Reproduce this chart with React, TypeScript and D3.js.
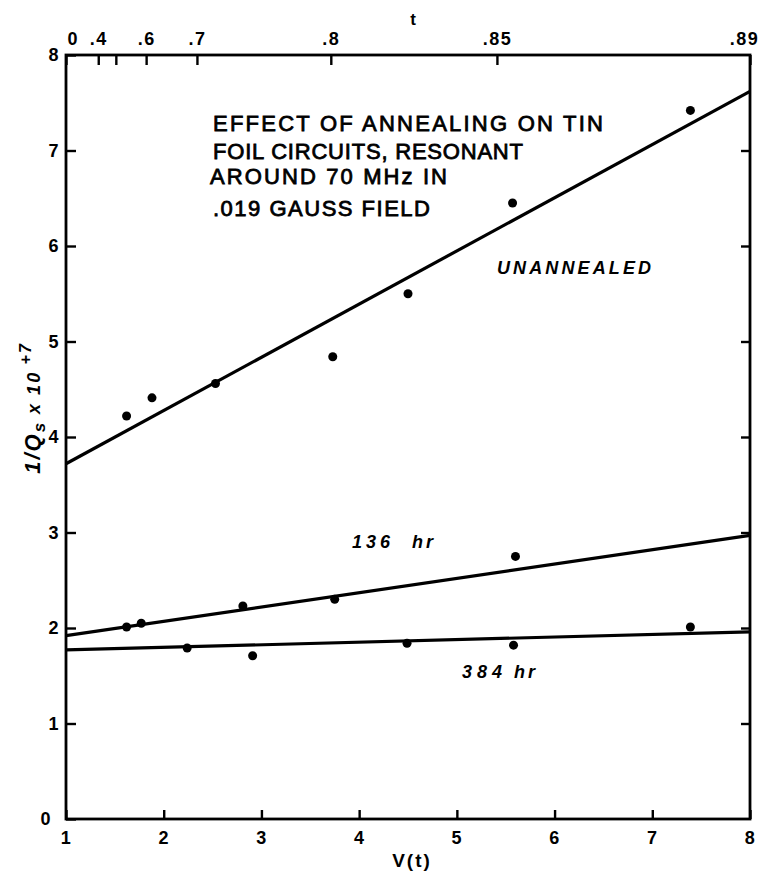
import { useEffect, useRef } from 'react'
import * as d3 from 'd3'

// data: V(t) on x, 1/Qs x 10^+7 on y
const vUnannealed = [1.62, 1.88, 2.53, 3.73, 4.5, 5.57, 7.39]
const qUnannealed = [4.22, 4.41, 4.56, 4.84, 5.5, 6.45, 7.42]
const v136 = [1.62, 1.77, 2.81, 3.75, 5.6]
const q136 = [2.01, 2.05, 2.23, 2.3, 2.75]
const v384 = [2.24, 2.91, 4.49, 5.58, 7.39]
const q384 = [1.79, 1.71, 1.84, 1.82, 2.01]

// fitted straight lines, value at V=1 and V=8
const fitV = [1, 8]
const fitUnannealed = [3.72, 7.62]
const fit136 = [1.92, 2.97]
const fit384 = [1.77, 1.96]

const bottomTicks = [1, 2, 3, 4, 5, 6, 7, 8]
const leftTicks = [0, 1, 2, 3, 4, 5, 6, 7, 8]
const rightTicks = [1, 2, 3, 4, 5, 6, 7]
// t scale along the top, placed at its V(t) value
const topTickValues = [1, 1.33, 1.51, 1.82, 2.34, 3.71, 5.41, 8]
const topTickLabels = ['0', '.4', '', '.6', '.7', '.8', '.85', '.89']

const titleLines = ['EFFECT OF ANNEALING ON TIN', 'FOIL CIRCUITS, RESONANT', 'AROUND 70 MHz IN', '.019 GAUSS FIELD']

const App = () => {
  const svgRef = useRef<SVGSVGElement>(null)
  const width = 762
  const height = 880

  useEffect(() => {
    if (!svgRef.current) return
    const svg = d3.select(svgRef.current)
    svg.selectAll('*').remove()
    const font = "'Liberation Sans', Arial, sans-serif"

    const x = d3.scaleLinear().domain([1, 8]).range([66, 750])
    const y = d3.scaleLinear().domain([0, 8]).range([819, 55])

    svg.append('rect').attr('width', width).attr('height', height).attr('fill', '#fff')

    const styleAxis = (g: any) => {
      g.select('.domain').remove()
      g.selectAll('line').attr('stroke', '#000').attr('stroke-width', 2.4)
      g.selectAll('text')
        .attr('font-family', font)
        .attr('font-weight', 'bold')
        .attr('font-size', 18)
        .attr('letter-spacing', 1.5)
        .attr('fill', '#000')
    }

    svg.append('g')
      .attr('transform', `translate(0,${y(0)})`)
      .call(d3.axisBottom(x).tickValues(bottomTicks).tickSize(-9).tickPadding(12).tickFormat(d3.format('d')))
      .call(styleAxis)

    const left = svg.append('g')
      .attr('transform', `translate(${x(1)},0)`)
      .call(d3.axisLeft(y).tickValues(leftTicks).tickSize(-10).tickPadding(6).tickFormat(d3.format('d')))
      .call(styleAxis)
    left.selectAll('text').filter((d: any) => d === 0).attr('dx', -8)

    svg.append('g')
      .attr('transform', `translate(${x(8)},0)`)
      .call(d3.axisRight(y).tickValues(rightTicks).tickSize(-9).tickFormat(() => ''))
      .call(styleAxis)

    const top = svg.append('g')
      .attr('transform', `translate(0,${y(8)})`)
      .call(d3.axisTop(x).tickValues(topTickValues).tickSize(-10).tickPadding(10)
        .tickFormat((d, i) => topTickLabels[i]))
      .call(styleAxis)
    top.selectAll('text').filter((d: any) => d === 1).attr('text-anchor', 'start').attr('dx', 1)
    top.selectAll('text').filter((d: any) => d === 8).attr('dx', -6)

    // frame
    svg.append('rect')
      .attr('x', x(1)).attr('y', y(8))
      .attr('width', x(8) - x(1)).attr('height', y(0) - y(8))
      .attr('fill', 'none').attr('stroke', '#000').attr('stroke-width', 2.8)

    const line = d3.line<number>().x((d, i) => x(fitV[i])).y(d => y(d))
    ;[fitUnannealed, fit136, fit384].forEach(f => {
      svg.append('path').attr('d', line(f)).attr('fill', 'none').attr('stroke', '#000').attr('stroke-width', 3.2)
    })

    const series = [[vUnannealed, qUnannealed], [v136, q136], [v384, q384]]
    series.forEach(([vs, qs]) => {
      svg.append('g').selectAll('circle')
        .data(vs).enter().append('circle')
        .attr('cx', d => x(d))
        .attr('cy', (d, i) => y(qs[i]))
        .attr('r', 4.5)
        .attr('fill', '#000')
    })

    // title block
    const titleY = [131, 159, 184, 216]
    const titleW = [390, 310, 237, 217]
    titleLines.forEach((t, i) => {
      svg.append('text')
        .attr('x', i === 2 ? 210 : 213).attr('y', titleY[i])
        .attr('textLength', titleW[i]).attr('lengthAdjust', 'spacing')
        .attr('font-family', font).attr('font-size', 22)
        .attr('stroke', '#000').attr('stroke-width', 0.8)
        .text(t)
    })

    const labels = [
      { t: 'UNANNEALED', x: 497, y: 274, w: 154 },
      { t: '136', x: 352, y: 548, w: 38 },
      { t: 'hr', x: 412, y: 548, w: 21 },
      { t: '384', x: 462, y: 678, w: 40 },
      { t: 'hr', x: 514, y: 678, w: 21 },
    ]
    labels.forEach(l => {
      svg.append('text')
        .attr('x', l.x).attr('y', l.y)
        .attr('textLength', l.w).attr('lengthAdjust', 'spacing')
        .attr('font-family', font).attr('font-size', 18)
        .attr('font-weight', 'bold').attr('font-style', 'italic')
        .text(l.t)
    })

    // axis titles
    svg.append('text')
      .attr('x', 412).attr('y', 867)
      .attr('text-anchor', 'middle')
      .attr('font-family', font).attr('font-size', 19).attr('font-weight', 'bold')
      .attr('letter-spacing', 2)
      .text('V(t)')

    svg.append('text')
      .attr('x', 413).attr('y', 25)
      .attr('text-anchor', 'middle')
      .attr('font-family', font).attr('font-size', 17).attr('font-weight', 'bold')
      .text('t')

    const yl = svg.append('text')
      .attr('transform', 'translate(40,408) rotate(-90)')
      .attr('text-anchor', 'middle')
      .attr('font-family', font).attr('font-size', 22)
      .attr('font-weight', 'bold').attr('font-style', 'italic')
      .attr('letter-spacing', 2)
    yl.append('tspan').text('1/Q')
    yl.append('tspan').attr('dy', 5).attr('font-size', 17).text('s')
    yl.append('tspan').attr('dy', -5).attr('font-size', 18).text('  x  10')
    yl.append('tspan').attr('dy', -9).attr('font-size', 16).text(' +7')
  }, [])

  return (
    <div style={{ position: 'absolute', left: 0, top: 0 }}>
      <svg ref={svgRef} width={width} height={height} />
    </div>
  )
}

export default App
